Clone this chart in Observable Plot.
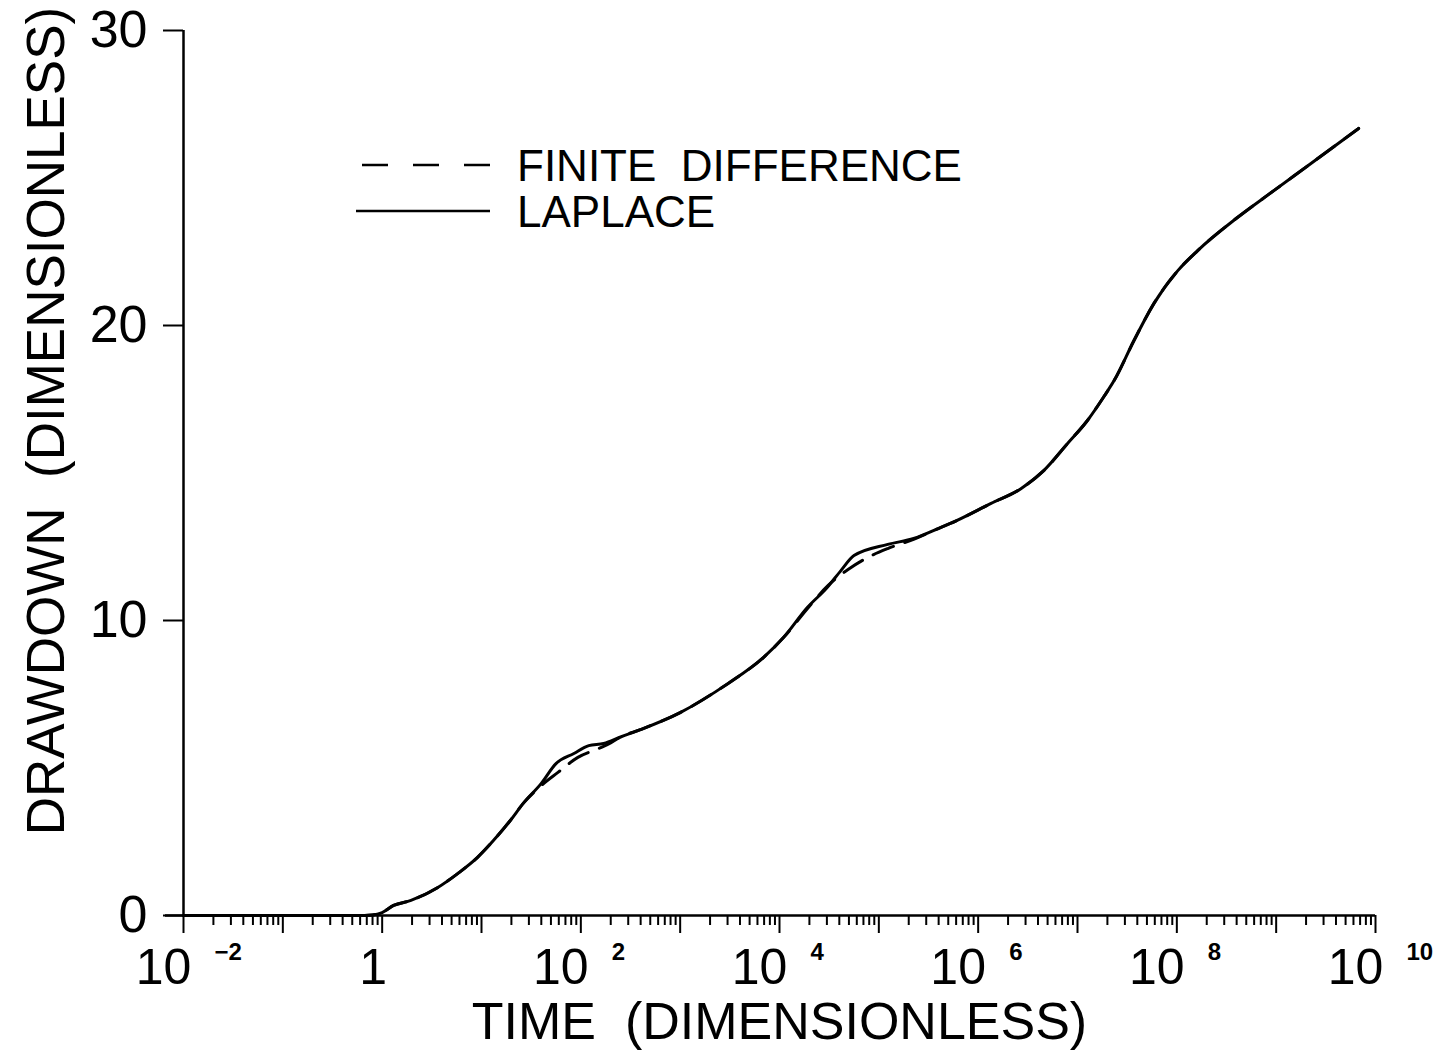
<!DOCTYPE html>
<html>
<head>
<meta charset="utf-8">
<script src="https://cdn.jsdelivr.net/npm/d3@7"></script>
<script src="https://cdn.jsdelivr.net/npm/@observablehq/plot@0.6"></script>
<style>
  body { margin: 0; background: #fff; }
  #wrap { position: relative; width: 1444px; height: 1060px; }
  #legend { position: absolute; left: 0; top: 0; pointer-events: none; }
  text { white-space: pre; }
</style>
</head>
<body>
<div id="wrap"></div>
<script>
// ---- data (log10 of dimensionless time, dimensionless drawdown) ----
const laplaceLogT = [-2, -1, -0.5, -0.25, -0.1, 0.0, 0.115, 0.29, 0.56, 0.76, 0.96, 1.12, 1.29, 1.42, 1.6, 1.75, 1.93, 2.08, 2.23, 2.4, 2.6, 3.0, 3.48, 3.84, 4.04, 4.28, 4.48, 4.62, 4.75, 5.09, 5.35, 5.62, 5.72, 6.13, 6.43, 6.66, 6.9, 7.1, 7.26, 7.37, 7.57, 7.77, 8.01, 8.21, 8.61, 8.98, 9.35, 9.83];
const laplaceS    = [0, 0, 0, 0.0, 0.02, 0.1, 0.34, 0.51, 0.95, 1.42, 1.97, 2.54, 3.22, 3.8, 4.47, 5.15, 5.49, 5.76, 5.83, 6.05, 6.3, 6.88, 7.86, 8.75, 9.42, 10.44, 11.12, 11.7, 12.2, 12.58, 12.78, 13.15, 13.29, 13.97, 14.47, 15.08, 16.0, 16.78, 17.56, 18.14, 19.5, 20.75, 21.86, 22.54, 23.66, 24.58, 25.49, 26.68];

const fdLogT = [-2, -1, -0.5, -0.25, -0.1, 0.0, 0.115, 0.29, 0.56, 0.76, 0.96, 1.12, 1.29, 1.42, 1.6, 1.77, 1.97, 2.18, 2.3, 2.4, 2.6, 3.0, 3.48, 3.84, 4.04, 4.28, 4.49, 4.69, 4.89, 5.09, 5.35, 5.62, 5.72, 6.13, 6.43, 6.66, 6.9, 7.1, 7.26, 7.37, 7.57, 7.77, 8.01, 8.21, 8.61, 8.98, 9.35, 9.83];
const fdS    = [0, 0, 0, 0.0, 0.02, 0.1, 0.34, 0.51, 0.95, 1.42, 1.97, 2.54, 3.22, 3.8, 4.4, 4.85, 5.36, 5.66, 5.85, 6.05, 6.3, 6.88, 7.86, 8.75, 9.42, 10.4, 11.19, 11.73, 12.14, 12.44, 12.75, 13.15, 13.29, 13.97, 14.47, 15.08, 16.0, 16.78, 17.56, 18.14, 19.5, 20.75, 21.86, 22.54, 23.66, 24.58, 25.49, 26.68];

const majorExponents = [-2, 2, 4, 6, 8, 10];
const decadeExponents = [-2, -1, 0, 1, 2, 3, 4, 5, 6, 7, 8, 9, 10];
const minorMultipliers = [2, 3, 4, 5, 6, 7, 8, 9];
const yTicks = [0, 10, 20, 30];
const xTitle = "TIME  (DIMENSIONLESS)";
const yTitle = "DRAWDOWN  (DIMENSIONLESS)";
const seriesNames = ["FINITE  DIFFERENCE", "LAPLACE"];

// ---- build tables ----
const laplace = laplaceLogT.map((e, i) => ({t: Math.pow(10, e), s: laplaceS[i]}));
const fd = fdLogT.map((e, i) => ({t: Math.pow(10, e), s: fdS[i]}));
const decadeTicks = decadeExponents.map(e => Math.pow(10, e));
const minorTicks = decadeExponents.slice(0, -1).flatMap(e => minorMultipliers.map(m => m * Math.pow(10, e)));

const FONT = "'Liberation Sans', Arial, sans-serif";

const chart = Plot.plot({
  width: 1444,
  height: 1060,
  marginLeft: 183,
  marginRight: 69,
  marginTop: 30,
  marginBottom: 145,
  style: {fontFamily: FONT, background: "white", overflow: "visible", color: "black"},
  x: {type: "log", domain: [1e-2, 1e10]},
  y: {domain: [0, 30]},
  marks: [
    // axis lines
    Plot.ruleY([0], {stroke: "black", strokeWidth: 2.5, insetLeft: -18}),
    Plot.ruleX([1e-2], {y1: 0, y2: 30, stroke: "black", strokeWidth: 2.5}),
    // x ticks
    Plot.axisX({ticks: minorTicks, tickSize: 10, tickFormat: () => "", label: null, strokeWidth: 2}),
    Plot.axisX({ticks: decadeTicks, tickSize: 18, tickFormat: () => "", label: null, strokeWidth: 2}),
    // y ticks and labels
    Plot.axisY({ticks: yTicks, tickSize: 20, tickPadding: 16, label: null, strokeWidth: 2, fontSize: 52, tickFormat: d => String(d)}),
    // x tick labels "10" with exponents
    Plot.text(majorExponents, {x: e => Math.pow(10, e), text: () => "10", frameAnchor: "bottom", lineAnchor: "middle", dy: 52, dx: -20, fontSize: 50}),
    Plot.text(majorExponents, {x: e => Math.pow(10, e), text: e => (e < 0 ? "\u2212" + (-e) : String(e)), frameAnchor: "bottom", lineAnchor: "middle", dy: 37, dx: 31, textAnchor: "start", fontSize: 24, fontWeight: "bold"}),
    Plot.text([1], {x: d => d, text: () => "1", frameAnchor: "bottom", lineAnchor: "middle", dy: 52, dx: -9, fontSize: 50}),
    // axis titles
    Plot.text([xTitle], {text: d => d, frameAnchor: "bottom", lineAnchor: "middle", dy: 107, fontSize: 52}),
    Plot.text([yTitle], {text: d => d, frameAnchor: "left", textAnchor: "middle", lineAnchor: "middle", rotate: -90, dx: -136, dy: -52, fontSize: 53}),
    // curves
    Plot.line(laplace, {x: "t", y: "s", stroke: "black", strokeWidth: 3, curve: "monotone-x"}),
    Plot.line(fd, {x: "t", y: "s", stroke: "black", strokeWidth: 3, strokeDasharray: "22,12", curve: "monotone-x"})
  ]
});

const wrap = document.getElementById("wrap");
wrap.appendChild(chart);

// ---- legend (overlay) ----
const lg = d3.select(wrap).append("svg")
  .attr("id", "legend")
  .attr("width", 1444).attr("height", 1060)
  .style("font-family", FONT);
lg.append("line").attr("x1", 362).attr("x2", 490).attr("y1", 165).attr("y2", 165)
  .attr("stroke", "black").attr("stroke-width", 2.5).attr("stroke-dasharray", "26,25");
lg.append("line").attr("x1", 356).attr("x2", 490).attr("y1", 211).attr("y2", 211)
  .attr("stroke", "black").attr("stroke-width", 2.5);
lg.selectAll("text.lbl").data(seriesNames).join("text")
  .attr("class", "lbl")
  .attr("x", 517)
  .attr("y", (d, i) => 165 + i * 46)
  .attr("dy", "0.36em")
  .attr("font-size", 44)
  .text(d => d);
</script>
</body>
</html>
